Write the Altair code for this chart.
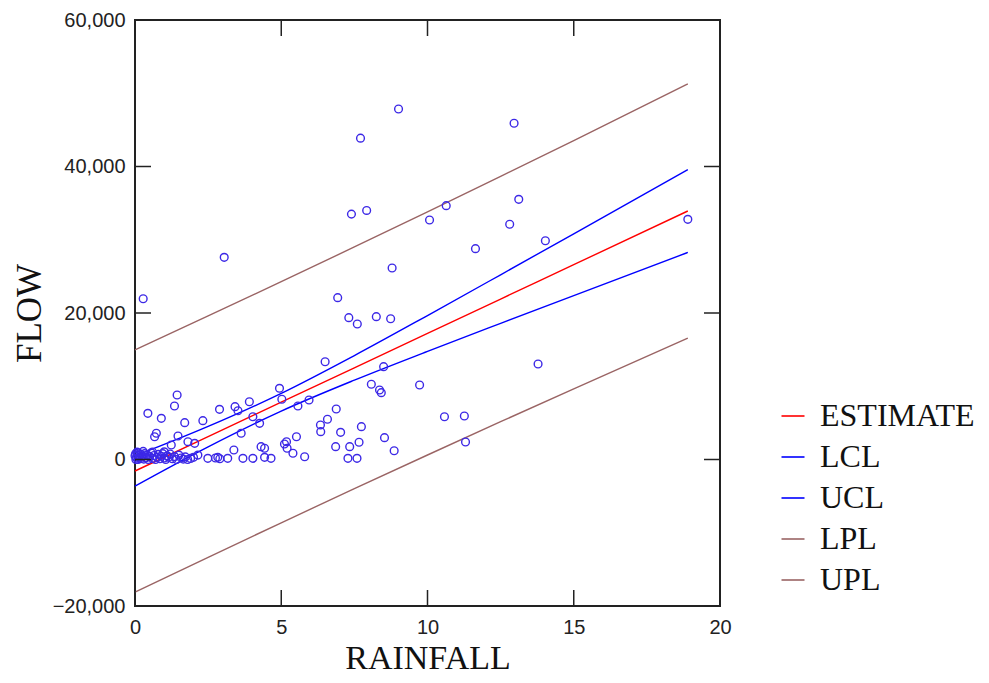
import altair as alt
import pandas as pd

# ---- scatter data (RAINFALL, FLOW) ----
rain = [9.01, 12.96, 7.71, 13.12, 10.64, 7.92, 7.40, 10.07, 12.81, 18.90,
        14.03, 11.64, 3.05, 8.79, 0.28, 6.93, 7.31, 7.60, 8.25, 8.74,
        6.50, 8.50, 13.78, 8.08, 8.36, 8.42, 9.73, 10.58, 11.26, 11.30,
        5.95, 5.57, 6.88, 6.58, 6.34, 6.35, 7.03, 7.74, 8.53, 8.86,
        5.52, 5.18, 5.20, 5.40, 5.80, 6.86, 7.34, 7.66, 7.28, 7.59,
        1.44, 1.35, 0.44, 0.90, 1.70, 2.32, 2.89, 3.42, 3.52, 3.91,
        4.94, 5.02, 4.03, 4.26, 3.63, 0.73, 0.67, 1.47, 1.81, 2.04,
        1.24, 4.31, 4.43, 3.38, 5.11, 2.49, 2.83, 3.17, 3.69, 4.03,
        4.43, 4.65, 2.15, 2.75, 2.90,
        0.00, 0.02, 0.05, 0.08, 0.10, 0.12, 0.15, 0.18, 0.20, 0.25,
        0.30, 0.33, 0.38, 0.42, 0.45, 0.50, 0.55, 0.60, 0.65, 0.70,
        0.75, 0.80, 0.85, 0.90, 0.95, 1.00, 1.05, 1.10, 1.15, 1.20,
        1.28, 1.35, 1.42, 1.50, 1.58, 1.65, 1.72, 1.80, 1.90, 2.00,
        0.03, 0.07, 0.28, 0.60, 1.00]
flow = [47850, 45900, 43870, 35520, 34650, 34000, 33500, 32700, 32110, 32790,
        29870, 28780, 27600, 26140, 21950, 22090, 19360, 18500, 19500, 19220,
        13350, 12670, 13040, 10270, 9490, 9120, 10170, 5840, 5940, 2390,
        8120, 7300, 6890, 5490, 4710, 3800, 3710, 4480, 2980, 1200,
        3110, 2430, 1530, 850, 380, 1750, 1750, 2350, 160, 160,
        8800, 7300, 6300, 5620, 5030, 5300, 6850, 7210, 6660, 7890,
        9720, 8220, 5840, 4940, 3580, 3580, 3110, 3210, 2430, 2210,
        1980, 1750, 1530, 1300, 2120, 160, 300, 160, 160, 160,
        300, 160, 600, 200, 100,
        500, 800, 200, 600, 0, 900, 350, 100, 700, 450,
        50, 800, 250, 600, 0, 400, 900, 150, 550, 0,
        300, 700, 100, 450, 800, 200, 0, 500, 300, 750,
        100, 400, 0, 600, 200, 50, 350, 0, 150, 300,
        0, 1000, 1100, 1000, 1050]

# ---- fitted lines ----
line_x = [0, 2.5, 5, 7.5, 10, 12.5, 15, 18.9]
est = [-1570, 3125, 7820, 12515, 17210, 21905, 26600, 33924]
lcl = [-3620, 1739, 6611, 10837, 14764, 18591, 22384, 28264]
ucl = [480, 4511, 9029, 14193, 19656, 25219, 30816, 39584]
lpl = [-18110, -13347, -8638, -3984, 615, 5160, 9653, 16563]
upl = [14970, 19597, 24278, 29014, 33805, 38650, 43547, 51285]

series_names = ["ESTIMATE", "LCL", "UCL", "LPL", "UPL"]
series_colors = ["#ff0000", "#0000ff", "#0000ff", "#9a6464", "#9a6464"]
x_ticks = [0, 5, 10, 15, 20]
y_ticks = [-20000, 0, 20000, 40000, 60000]

pts = pd.DataFrame({"RAINFALL": rain, "FLOW": flow})
rows = []
for name, vals in zip(series_names, [est, lcl, ucl, lpl, upl]):
    for xv, yv in zip(line_x, vals):
        rows.append({"series": name, "RAINFALL": xv, "FLOW": yv})
lines_df = pd.DataFrame(rows)
xt_df = pd.DataFrame({"RAINFALL": x_ticks})
yt_df = pd.DataFrame({"FLOW": y_ticks})

W, H = 585, 586
xscale = alt.Scale(domain=[0, 20], nice=False, zero=False)
yscale = alt.Scale(domain=[-20000, 60000], nice=False, zero=False)

xaxis = alt.Axis(values=x_ticks, ticks=False, tickSize=0, domain=False, grid=False,
                 format=".0f", labelFlush=False,
                 labelFont="Liberation Sans", labelFontSize=20, labelColor="#222",
                 labelPadding=11, title="RAINFALL", titleFont="Liberation Serif",
                 titleFontSize=34, titleFontWeight="normal", titleColor="#111",
                 titleBaseline="alphabetic", titleY=62, titleX=W / 2)
yaxis = alt.Axis(values=y_ticks, ticks=False, tickSize=0, domain=False, grid=False,
                 format=",.0f", labelFlush=False,
                 labelFont="Liberation Sans", labelFontSize=20,
                 labelColor="#222", labelPadding=10, title="FLOW",
                 titleFont="Liberation Serif", titleFontSize=35,
                 titleFontWeight="normal", titleColor="#111", titleAngle=270,
                 titleBaseline="alphabetic", titleX=-95, titleY=H / 2,
                 titleAlign="center")

X = alt.X("RAINFALL:Q", scale=xscale, axis=xaxis)
Y = alt.Y("FLOW:Q", scale=yscale, axis=yaxis)

points = alt.Chart(pts).mark_point(
    shape="circle", filled=False, size=60, strokeWidth=1.4,
    color="#3c28e6", opacity=1
).encode(x=X, y=Y)

lines = alt.Chart(lines_df).mark_line(strokeWidth=1.4, interpolate="monotone").encode(
    x=X, y=Y,
    color=alt.Color(
        "series:N",
        scale=alt.Scale(domain=series_names, range=series_colors),
        sort=series_names,
        legend=alt.Legend(
            orient="none", legendX=642, legendY=380, title=None,
            symbolType="stroke", symbolSize=529, symbolStrokeWidth=1.6,
            labelFont="Liberation Serif", labelFontSize=32, labelColor="#111",
            labelOffset=11, rowPadding=9, padding=0, labelLimit=300
        ),
    ),
    detail="series:N",
)

tick_color = "#222"
left_ticks = alt.Chart(yt_df).mark_rule(color=tick_color, strokeWidth=1.5).encode(
    y=Y, x=alt.value(0), x2=alt.value(16))
right_ticks = alt.Chart(yt_df).mark_rule(color=tick_color, strokeWidth=1.5).encode(
    y=Y, x=alt.value(W), x2=alt.value(W - 16))
bottom_ticks = alt.Chart(xt_df).mark_rule(color=tick_color, strokeWidth=1.5).encode(
    x=X, y=alt.value(H), y2=alt.value(H - 16))
top_ticks = alt.Chart(xt_df).mark_rule(color=tick_color, strokeWidth=1.5).encode(
    x=X, y=alt.value(0), y2=alt.value(16))

chart = alt.layer(
    lines, points, left_ticks, right_ticks, bottom_ticks, top_ticks
).properties(
    width=W, height=H,
    autosize="none",
    padding={"left": 127, "top": 12, "right": 260, "bottom": 69},
    background="white",
).configure_view(
    stroke="#222", strokeWidth=2
)

chart.save("out.html", embed_options={"renderer": "svg", "actions": False})
